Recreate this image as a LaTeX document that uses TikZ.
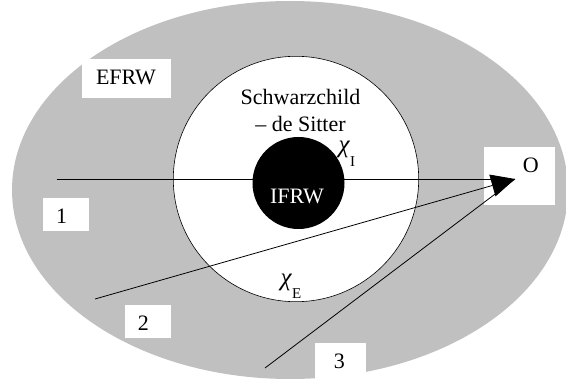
\documentclass[tikz,border=0pt]{standalone}
\usepackage{fontspec}
\setmainfont{Liberation Serif}
\usetikzlibrary{arrows.meta}
\definecolor{efrwgray}{RGB}{192,192,192}
\tikzset{
  lbl/.style={font=\fontsize{22}{26.5}\selectfont, inner sep=0pt},
  wbox/.style={fill=white, draw=none, inner sep=0pt},
  ray/.style={line width=0.8pt, black},
}
\newcommand{\bigchi}{{\fontsize{25}{25}\selectfont\textit{χ}}}
\begin{document}
\begin{tikzpicture}[x=1pt,y=-1pt]
\useasboundingbox (0,0) rectangle (566,385);
% outer EFRW region
\fill[efrwgray] (290,190) ellipse [x radius=278, y radius=189];
% label boxes
\node[wbox, minimum width=89, minimum height=39] (bE) at (126.5,78.8) {};
\node[lbl] (tE) at (126,77.5) {EFRW};
\node[wbox, minimum width=45.7, minimum height=32.4] (b1) at (66.2,214.5) {};
\node[lbl] (t1) at (61.7,216.2) {1};
\node[wbox, minimum width=45.7, minimum height=32.7] (b2) at (147.9,321.4) {};
\node[lbl] (t2) at (143.3,322.8) {2};
\node[wbox, minimum width=51, minimum height=47] (b3) at (340.5,366.8) {};
\node[lbl] (t3) at (339.3,361.3) {3};
\node[wbox, minimum width=70.7, minimum height=57.7] (bO) at (519.7,176.2) {};
\node[lbl] (tO) at (530.7,165.8) {O};
% Schwarzschild - de Sitter region
\node[circle, draw, fill=white, line width=0.6pt, minimum size=245.4, inner sep=0pt] (sds) at (296,179) {};
\node[circle, fill=black, minimum size=92, inner sep=0pt] (ifrw) at (298.5,183) {};
\node[lbl, text=white, anchor=base] (ifrwt) at (297,204) {IFRW};
\node[lbl, align=center, anchor=north] (sdst) at (300.5,89.5) {Schwarzchild\\– de Sitter};
\node[lbl, anchor=base west] (chiI) at (338.5,153) {\bigchi\raisebox{-13.5pt}{\fontsize{15}{15}\selectfont I}};
\node[lbl, anchor=base west] (chiE) at (280.5,285.5) {\bigchi\raisebox{-13.5pt}{\fontsize{15}{15}\selectfont E}};
% rays
\coordinate (tip) at (515,179);
\coordinate (s1) at (56.7,179);
\coordinate (s2) at (95,299);
\coordinate (s3) at (265,368);
\draw[ray] (s1) -- (tip);
\draw[ray] (s3) -- (tip);
\draw[ray, -{Triangle[length=23.5pt,width=22.5pt]}] (s2) -- (tip);
\end{tikzpicture}
\end{document}
